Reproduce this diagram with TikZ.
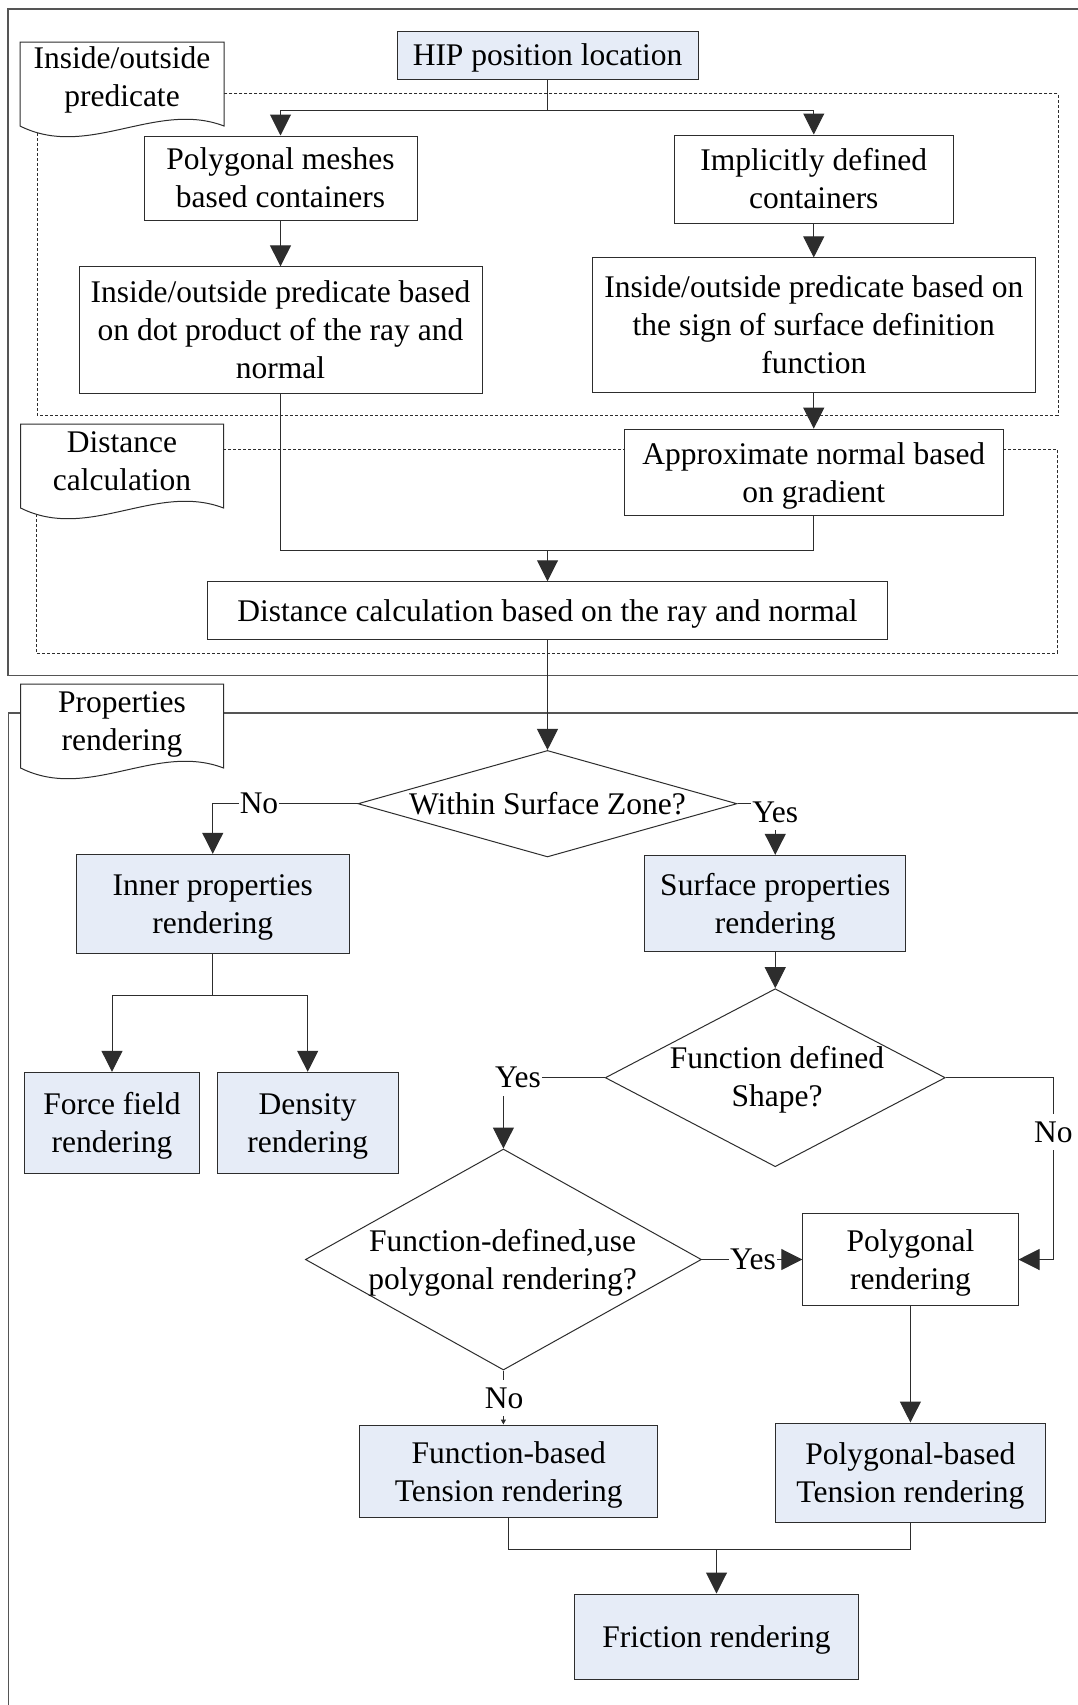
\documentclass[tikz,border=0pt]{standalone}
\usepackage{fontspec}
\setmainfont{Liberation Serif}
\usetikzlibrary{arrows.meta,shapes.geometric}
\definecolor{boxblue}{RGB}{230,236,247}
\definecolor{edge}{RGB}{45,45,45}
\definecolor{framegray}{RGB}{85,85,85}
% centred block of lines, set a little low as in the usual flowchart editors
\newcommand\celltext[1]{\raisebox{-3pt}[\height][\depth]{\begin{tabular}{@{}c@{}}#1\end{tabular}}}
\begin{document}
\begin{tikzpicture}[x=1pt,y=-1pt,
  every node/.style={font=\fontsize{31.5}{38}\selectfont},
  box/.style={draw=edge, line width=1pt, fill=white, inner sep=0pt},
  bluebox/.style={box, fill=boxblue},
  decision/.style={diamond, draw=edge, line width=1pt, fill=white, inner sep=0pt},
  plain/.style={inner sep=0pt},
  flow/.style={draw=edge, line width=1pt},
  arrow/.style={flow, -{Triangle[width=21pt,length=21pt]}},
  tinyarrow/.style={flow, -{Triangle[width=5pt,length=5pt]}},
  tag/.style={fill=white, inner xsep=1pt, inner ysep=8pt},
  zone/.style={draw=edge, line width=0.9pt, dash pattern=on 3pt off 2pt},
  frame/.style={draw=framegray, line width=1.8pt},
  docline/.style={draw=edge, line width=1pt, fill=white},
]
\useasboundingbox[fill=white] (0,0) rectangle (1078,1705);

% section frames
\draw[frame] (1095,9.3) -- (8.3,9.3) -- (8.3,675.5) -- (1095,675.5);
\draw[frame] (1095,713.3) -- (8.5,713.3) -- (8.5,1720);

% dashed groups
\draw[zone] (37,93.3) rectangle (1058,415);
\draw[zone] (36,449.3) rectangle (1057,653.3);

% document-shaped section tags
\draw[docline] (20,42) -- ++(204,0) -- ++(0,84)
  .. controls +(-68,-26) and +(68,34) .. ++(-204,0) -- cycle;
\node[plain] (docpred) at (122,77.3) {\celltext{Inside/outside\\predicate}};
\draw[docline] (20.6,424) -- ++(203,0) -- ++(0,84)
  .. controls +(-68,-26) and +(68,34) .. ++(-203,0) -- cycle;
\node[plain] (docdist) at (122,460.5) {\celltext{Distance\\calculation}};
\draw[docline] (20.6,684) -- ++(203,0) -- ++(0,84)
  .. controls +(-68,-26) and +(68,34) .. ++(-203,0) -- cycle;
\node[plain] (docprop) at (122,720.6) {\celltext{Properties\\rendering}};

% upper part: locating the HIP
\node[bluebox, minimum width=301pt, minimum height=48pt] (hip) at (547.5,55) {\celltext{HIP position location}};
\node[box, minimum width=273pt, minimum height=84pt] (meshes) at (280.5,178) {\celltext{Polygonal meshes\\based containers}};
\node[box, minimum width=279.5pt, minimum height=88pt] (implicit) at (813.75,179) {\celltext{Implicitly defined\\containers}};
\node[box, minimum width=403pt, minimum height=126.3pt] (predL) at (280.5,330) {\celltext{Inside/outside predicate based\\on dot product of the ray and\\normal}};
\node[box, minimum width=442.5pt, minimum height=134.7pt] (predR) at (813.75,325.3) {\celltext{Inside/outside predicate based on\\the sign of surface definition\\function}};
\node[box, minimum width=379pt, minimum height=86.7pt] (approx) at (813.75,472.5) {\celltext{Approximate normal based\\on gradient}};
\node[box, minimum width=679.4pt, minimum height=57.3pt] (dist) at (547.5,610.4) {\celltext{Distance calculation based on the ray and normal}};

% lower part: property rendering
\node[decision, minimum width=379pt, minimum height=106.5pt] (zone) at (547.5,803.7) {};
\node[plain] (zonetext) at (547.5,804) {\celltext{Within Surface Zone?}};
\node[bluebox, minimum width=272.5pt, minimum height=99pt] (inner) at (212.75,903.8) {\celltext{Inner properties\\rendering}};
\node[bluebox, minimum width=261.1pt, minimum height=96.4pt] (surface) at (775.25,903.5) {\celltext{Surface properties\\rendering}};
\node[bluebox, minimum width=175.8pt, minimum height=101.4pt] (force) at (112,1123) {\celltext{Force field\\rendering}};
\node[bluebox, minimum width=181.4pt, minimum height=101.4pt] (density) at (307.7,1123) {\celltext{Density\\rendering}};
\node[decision, minimum width=340pt, minimum height=178pt] (shape) at (775.25,1077.7) {};
\node[plain] (shapetext) at (777,1077) {\celltext{Function defined\\Shape?}};
\node[decision, minimum width=396pt, minimum height=221pt] (usepoly) at (503.4,1259.5) {};
\node[plain] (usepolytext) at (502.6,1260) {\celltext{Function-defined,use\\polygonal rendering?}};
\node[box, minimum width=215.2pt, minimum height=92.6pt] (polyr) at (910.4,1259.5) {\celltext{Polygonal\\rendering}};
\node[bluebox, minimum width=297.8pt, minimum height=92.8pt] (fbased) at (508.7,1471.4) {\celltext{Function-based\\Tension rendering}};
\node[bluebox, minimum width=269.3pt, minimum height=99.4pt] (pbased) at (910.4,1472.7) {\celltext{Polygonal-based\\Tension rendering}};
\node[bluebox, minimum width=283.5pt, minimum height=85pt] (friction) at (716.5,1636.5) {\celltext{Friction rendering}};

% connectors, upper part
\draw[flow] (hip.south) -- ++(0,31) coordinate (hipsplit);
\draw[arrow] (hipsplit) -| (meshes.north);
\draw[arrow] (hipsplit) -| (implicit.north);
\draw[arrow] (meshes.south) -- (predL.north);
\draw[arrow] (implicit.south) -- (predR.north);
\draw[arrow] (predR.south) -- (approx.north);
\coordinate (distjoin) at (547.5,550);
\draw[flow] (predL.south) |- (distjoin);
\draw[flow] (approx.south) |- (distjoin);
\draw[arrow] (distjoin) -- (dist.north);
\draw[arrow] (dist.south) -- (zone.north);

% connectors, lower part
\draw[arrow] (zone.west) -| (inner.north);
\draw[arrow] (zone.east) -| (surface.north);
\draw[flow] (inner.south) -- ++(0,42) coordinate (innersplit);
\draw[arrow] (innersplit) -| (force.north);
\draw[arrow] (innersplit) -| (density.north);
\draw[arrow] (surface.south) -- (shape.north);
\draw[arrow] (shape.west) -| (usepoly.north);
\draw[arrow] (shape.east) -- ++(108,0) coordinate (nocorner) |- (polyr.east);
\draw[arrow] (usepoly.east) -- (polyr.west);
\draw[tinyarrow] (usepoly.south) -- (usepoly.south |- fbased.north);
\draw[arrow] (polyr.south) -- (pbased.north);
\coordinate (tensionjoin) at (716.5,1549.3);
\draw[flow] (fbased.south) |- (tensionjoin);
\draw[flow] (pbased.south) |- (tensionjoin);
\draw[arrow] (tensionjoin) -- (friction.north);

% branch labels
\node[tag] (noinner) at (259,803.7) {No};
\node[tag] (yessurface) at (775.25,812) {Yes};
\node[tag] (yesfunc) at (518,1077.7) {Yes};
\node[tag] (nofunc) at (1053.25,1132) {No};
\node[tag] (yespoly) at (753,1259.5) {Yes};
\node[tag] (nopoly) at (504,1398) {No};
\end{tikzpicture}
\end{document}
